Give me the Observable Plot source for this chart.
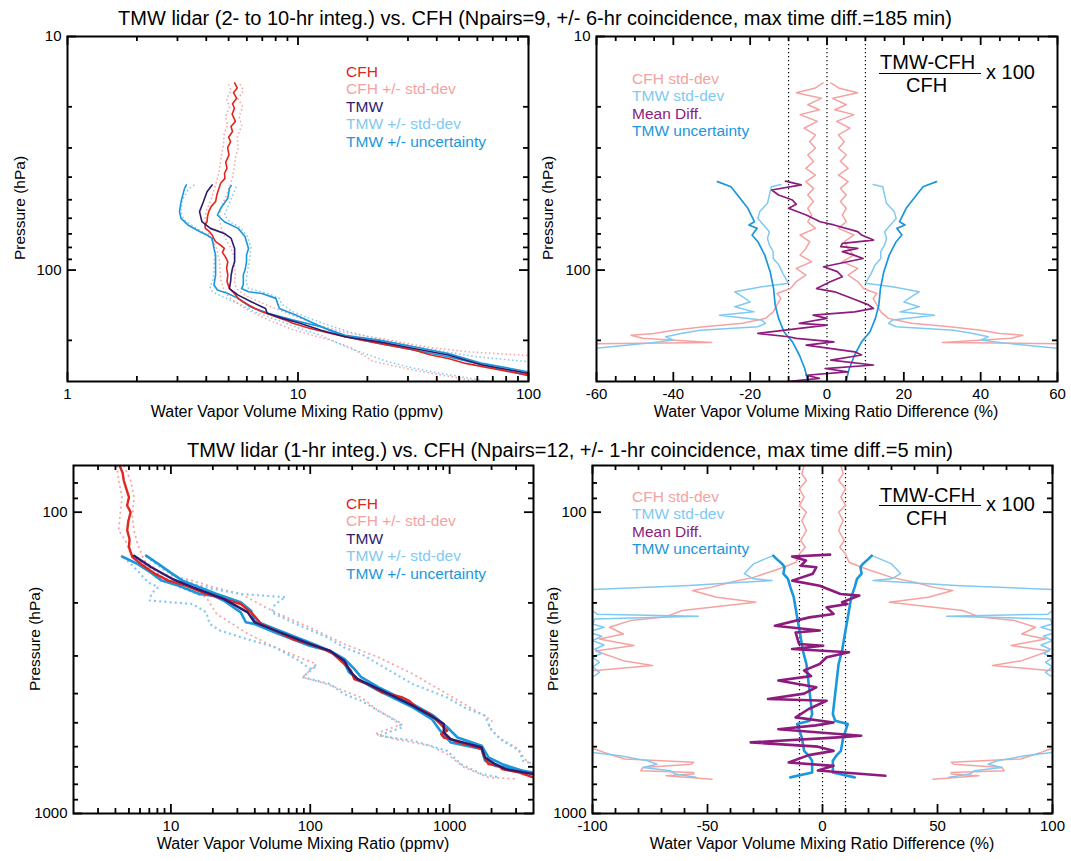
<!DOCTYPE html>
<html><head><meta charset="utf-8">
<script src="https://cdn.jsdelivr.net/npm/d3@7"></script>
<script src="https://cdn.jsdelivr.net/npm/@observablehq/plot@0.6"></script>
<style>
body{margin:0;background:#fff;font-family:"Liberation Sans",Arial,Helvetica,sans-serif;color:#000;}
#root{position:relative;width:1071px;height:861px;overflow:hidden;background:#fff;}
.t{position:absolute;white-space:nowrap;line-height:1;}
.title{font-size:20px;transform:translateX(-50%);}
.xl{font-size:16px;transform:translateX(-50%);}
.yl{font-size:15.5px;transform:translate(-50%,-50%) rotate(-90deg);}
.leg{position:absolute;font-size:15.5px;line-height:17.4px;white-space:nowrap;}
.fr{font-size:20px;}
.bar{position:absolute;border-top:1.6px solid #000;height:0;}
svg{position:absolute;}
</style></head>
<body><div id="root"></div>
<script>
// ---------- colours ----------
const COL = {cfh:"#e2261d", cfhSd:"#f5a2a2", tmw:"#2e1b6e", tmwSd:"#80c9f1", unc:"#1b97dc", mean:"#8c1b7d"};

// ---------- titles / labels ----------
const titleTop = "TMW lidar (2- to 10-hr integ.) vs. CFH (Npairs=9, +/- 6-hr coincidence, max time diff.=185 min)";
const titleBottom = "TMW lidar (1-hr integ.) vs. CFH (Npairs=12, +/- 1-hr coincidence, max time diff.=5 min)";
const xLabelRatio = "Water Vapor Volume Mixing Ratio (ppmv)";
const xLabelDiff = "Water Vapor Volume Mixing Ratio Difference (%)";
const yLabel = "Pressure (hPa)";
const legendProfile = ["CFH","CFH +/- std-dev","TMW","TMW +/- std-dev","TMW +/- uncertainty"];
const legendProfileCol = [COL.cfh, COL.cfhSd, COL.tmw, COL.tmwSd, COL.unc];
const legendDiff = ["CFH std-dev","TMW std-dev","Mean Diff.","TMW uncertainty"];
const legendDiffCol = [COL.cfhSd, COL.tmwSd, COL.mean, COL.unc];

// ---------- tick values ----------
const tlXMajor = [1,10,100];
const tlXMinor = [2,3,4,5,6,7,8,9,20,30,40,50,60,70,80,90];
const topYMajor = [10,100];
const topYMinor = [20,30,40,50,60,70,80,90,200];
const trXMajor = [-60,-40,-20,0,20,40,60];
const trXMinor = [-55,-50,-45,-35,-30,-25,-15,-10,-5,5,10,15,25,30,35,45,50,55];
const blXMajor = [10,100,1000];
const blXMinor = [3,4,5,6,7,8,9,20,30,40,50,60,70,80,90,200,300,400,500,600,700,800,900,2000,3000];
const botYMajor = [100,1000];
const botYMinor = [80,90,200,300,400,500,600,700,800,900];
const brXMajor = [-100,-50,0,50,100];
const brXMinor = [-90,-80,-70,-60,-40,-30,-20,-10,10,20,30,40,60,70,80,90];
const refLines = [-10,0,10];

// ---------- top-left: profiles [pressure hPa, ppmv] ----------
const tl_cfh = [[15.8,5.31],[16.6,5.45],[17.4,5.25],[18.4,5.42],[19.4,5.2],[20.3,5.3],[21.5,5.18],[23.1,5.35],[24.3,5.12],[25.5,5.2],[27,5.0],[28.2,5.1],[30,4.95],[32.1,5.02],[34.5,4.86],[36.7,4.92],[38.5,4.8],[40.5,4.82],[42.5,4.62],[44.7,4.54],[47.5,4.45],[50.9,4.39],[53.5,4.2],[56.2,4.1],[59,4.05],[62.1,4.03],[64,3.95],[66.3,3.96],[68,4.1],[70.8,4.24],[73,4.3],[75.6,4.39],[78,4.6],[80.8,4.79],[84,4.7],[88,4.85],[92.1,4.96],[98,4.9],[105,4.96],[112,4.92],[119.9,5.04],[126,5.3],[132.2,5.5],[137,5.8],[141,6.1],[146,6.5],[151,6.98],[158.5,8.02],[163,8.7],[169,9.5],[177.8,11.3],[187,13.9],[193,16.0],[199.5,19.0],[206,22.5],[213,26.8],[220,31.8],[231,37.7],[239,44.9],[251,53.3],[259,63.2],[268,75.1],[282,100]];
const tl_cfh_lo = [[16,5.0],[17,5.12],[18.5,4.9],[20,5.05],[22,4.85],[24,4.95],[26,4.78],[29,4.75],[32,4.66],[35,4.6],[38,4.55],[42,4.42],[46,4.3],[50,4.2],[55,4.02],[60,3.95],[65,3.98],[70,4.1],[75,4.25],[80,4.42],[90,4.55],[100,4.6],[110,4.62],[120,4.75],[130,5.0],[140,5.5],[150,6.2],[160,7.1],[170,8.2],[180,9.5],[190,11.5],[200,14],[215,17],[230,19],[245,21],[255,25],[270,33],[285,45],[300,60]];
const tl_cfh_hi = [[16,5.6],[17,5.8],[18.5,5.5],[20,5.75],[22,5.55],[24,5.7],[27,5.45],[30,5.5],[33,5.35],[36,5.3],[40,5.2],[44,5.05],[48,4.9],[52,4.7],[56,4.6],[60,4.55],[66,4.65],[70,4.75],[75,4.9],[80,5.1],[88,5.3],[96,5.3],[104,5.35],[112,5.3],[120,5.4],[128,5.9],[135,6.6],[145,7.8],[155,9.3],[165,11],[175,13],[185,16],[195,22],[205,29],[215,38],[224,55],[232,100]];
const tl_tmw = [[43.2,4.24],[46.2,4.03],[50.9,3.89],[56.2,3.74],[62.1,3.83],[66.3,4.17],[69.7,4.79],[73.2,5.13],[80.8,5.31],[92.1,5.31],[98,5.2],[105,5.13],[112,5.1],[120,5.04],[128,5.5],[137,6.3],[146,7.23],[153,7.35],[161,8.6],[169,10.2],[181,12.6],[193,16.0],[203,22.5],[216.6,31.8],[231,44.9],[255,63.2],[277,100]];
const tl_tmw_lo = [[43.2,3.55],[45,3.35],[50,3.15],[56,3.1],[61,3.2],[66,3.6],[71,4.05],[76,4.3],[85,4.35],[100,4.32],[110,4.28],[118,4.15],[124,4.25],[130,4.7],[140,5.6],[152,6.6],[165,8.3],[180,10.5],[190,12.5],[200,14],[215,16.5],[230,20],[245,24],[260,30],[275,40],[290,55],[300,66]];
const tl_tmw_hi = [[44,5.4],[48,5.2],[54,4.95],[58,4.8],[62,5.05],[66,5.65],[72,6.05],[80,6.25],[92,6.15],[100,6.05],[112,5.95],[120,6.1],[126,7.4],[132,8.3],[140,8.5],[150,9.4],[160,11],[172,13.5],[185,17],[195,21],[205,27],[215,35],[225,45],[235,60],[247,100]];
const tl_unc_lo = [[43.2,3.28],[44.7,3.22],[50.9,3.11],[56.2,3.06],[60.1,3.11],[64.1,3.33],[68.5,3.76],[70.8,4.03],[73.2,4.24],[80.8,4.32],[86.3,4.39],[98.3,4.39],[105,4.39],[115.8,4.32],[121.8,4.47],[125.9,4.96],[132.2,5.5],[143.6,6.2],[153.4,7.49],[163.8,9.53],[174.9,12.6],[193,16.0],[206,22.5],[220,31.8],[235,44.9],[255,63.2],[283.6,100]];
const tl_unc_hi = [[43.5,5.13],[44.7,5.04],[49.3,4.96],[54.4,4.62],[58.1,4.47],[62.1,4.79],[66.3,5.5],[71.9,5.89],[75.6,5.98],[80.8,6.1],[86.3,5.98],[92.1,5.98],[100,5.89],[105,5.79],[115.8,5.79],[120,5.69],[123.9,6.1],[125.9,6.98],[132.2,8.02],[146,8.3],[156,9.83],[174.9,12.6],[190,16.0],[199.5,22.5],[213,31.8],[227.5,44.9],[251,63.2],[272.6,100]];

// ---------- top-right: differences [pressure hPa, %] ----------
const tr_cfh_sd = [[15.8,1],[16.6,3],[17.4,8],[18.4,1.5],[19.6,5],[20.6,2],[21.6,7],[23.1,2.5],[24.7,6],[26.4,3],[28.2,4.5],[30.1,3],[32.1,5],[34.3,3.5],[36.7,5.5],[39.2,3],[41.8,5.5],[44.7,3.5],[47.7,5],[50.9,3.5],[54.4,5],[58.1,4],[62.1,5],[66.3,3],[70.8,7],[75.6,4.5],[80.8,5.5],[86.3,7],[92.1,4],[98.3,8],[105,5.5],[112,8],[120,9.5],[125.9,13],[132.2,12],[141,13],[151,14],[161,16],[169,22],[174.9,32],[180.9,40],[186.8,45],[190,51],[196,48],[204,30],[208,75]];
const tr_tmw_sd = [[43,12],[44,14.5],[47.7,15],[51.8,15.5],[56.2,17.5],[60.1,18],[64.1,16.5],[68.5,15],[73.2,15.5],[78.1,15],[83.4,14],[89.2,14],[95.2,12.5],[103.3,11.5],[114,10],[117.8,17],[123.9,24],[130,22],[137,20],[143.6,24],[151,19],[156,28],[163.8,17],[169,16],[174.9,18],[180.9,33],[186.8,38],[193,42],[199.5,40],[206,47],[220,65]];
const tr_unc = [[41.8,28.5],[44,25],[47.7,23.3],[54.4,20.6],[62.1,18.9],[64.1,20.3],[66.3,18.2],[70.8,19.5],[75.6,18],[86.3,16.2],[101.6,14.8],[120,13.9],[141,13.5],[161,12.6],[183.8,11.2],[203,9],[231,7.2],[264,5.8],[301,4.9]];
const tr_mean = [[41.6,-10.8],[43.2,-6.7],[45.4,-14.4],[47.7,-12.6],[50.1,-9],[52.3,-8],[54.4,-10],[58.1,-5.4],[62.1,-1.8],[64.1,1.8],[68.5,8],[70.8,9],[74.4,12.1],[76.8,4],[79.4,3.6],[80.8,8],[83.4,4],[86.3,7],[89.2,9.4],[96.8,-0.9],[101.6,2.7],[106.8,4],[112,1],[120,-2.7],[123.9,2],[134.4,7.6],[141,10.8],[146,12.1],[151,7.2],[156,-3.6],[161,0],[169,-7.2],[172.1,0],[186.8,-18],[193,-10],[196,-8],[203,1.8],[209.6,-5.4],[223.9,7.2],[231,9],[243,1],[255,12.1],[264,-0.5],[273,5.4],[282,-5.4],[291,-2],[301,-10.8]];

// ---------- bottom-left: profiles [pressure hPa, ppmv] ----------
const bl_cfh = [[70,4.28],[74,4.5],[78.5,4.59],[84,4.8],[89.2,5.0],[95,4.85],[100,5.14],[107,4.95],[115,4.86],[123,5.05],[130.7,5.0],[141,5.29],[148.5,6.09],[160,7.66],[168.7,9.6],[175.4,12.8],[186.8,17.9],[194,23.9],[201.7,31.7],[215,37.6],[235,44.6],[247,56],[263.6,74.5],[273.8,98.9],[284.5,124],[295.6,147],[319,175],[335.5,196],[358,207],[371.9,260],[396,326],[412,459],[422.5,514],[444.6,576],[468,723],[492,810],[531,961],[545,870],[559.6,908],[566.6,1017],[580.9,1140],[595.6,1431],[611,1698],[650,1780],[686,1902],[694.8,2256],[712.7,2388],[731,3170],[758.7,3981]];
const bl_tmw = [[139.4,5.44],[152.4,7.23],[166.4,10.2],[177.3,14.3],[194,23.9],[215,35.6],[231.9,39.8],[247,56],[273.8,98.9],[288.7,139],[311,175],[340,196],[358,219],[386,308],[438.5,544],[479.6,766],[504.9,908],[538,908],[566.6,1017],[586.6,1352],[604,1698],[651.6,1795],[686,2130],[712.7,2525],[740,3981]];
const bl_unc_lo = [[140.3,4.46],[148.5,5.75],[156.2,6.84],[168.7,8.58],[175.4,11.4],[186.8,16.0],[189.2,20.1],[196.4,23.9],[215,31.7],[231.9,34.5],[235,39.8],[250.7,56],[277.4,98.9],[288.7,139],[315,175],[340,190],[358,219],[391,308],[444.6,544],[486,745],[531,857],[580.9,1017],[611,1698],[668,1795],[694.8,2130],[731,3981]];
const bl_unc_hi = [[139.4,6.64],[148.5,8.11],[160,10.2],[168.7,12.1],[177.3,16.0],[186.8,21.3],[199,31.7],[212.3,37.6],[229,39.8],[244.3,56],[270.5,98.9],[288.7,139],[306.6,175],[331,207],[353,232],[381,308],[433.5,544],[473.5,766],[517.5,961],[559.6,1140],[595.6,1698],[651.6,1902],[686,2388],[740,3981]];
const bl_tmw_lo = [[144.7,4.86],[156.2,5.75],[170.9,6.84],[177.3,8.11],[186.8,7.23],[196.4,7.03],[201.7,14.3],[215,17.9],[235,19.0],[247,22.5],[260,31.7],[281,56],[311,83.4],[331,98.9],[323,111],[353,88.3],[371.9,139],[401.6,175],[422.5,232],[456,308],[492,409],[517.5,459],[551.8,308],[573,544],[619.6,961],[686,1205],[740,1698],[758.7,2256]];
const bl_tmw_hi = [[140.3,6.64],[156.2,9.08],[164.6,11.4],[173,14.3],[179.8,20.1],[186.8,31.7],[191.5,66.4],[201.7,56],[215,52.8],[231.9,74.5],[260,131.5],[281,175],[295.6,232],[319,308],[371.9,544],[412,961],[444.6,1276],[473.5,1795],[504.9,1902],[531,2014],[573,2388],[619.6,3170],[668,3357],[686,3981]];
const bl_cfh_lo = [[70,4.1],[78.5,4.22],[89.2,4.46],[101,4.33],[115,4.22],[124.2,4.72],[137.5,5.14],[152.4,6.84],[177.3,11.4],[191.5,17.9],[217.6,21.3],[253,35.6],[281,56],[303,83.4],[319,111],[353,88.3],[371.9,131.5],[412,232],[456,308],[504.9,459],[544.5,291],[566.6,409],[595.6,723],[635.5,961],[703.6,1276],[758.7,1902],[768,2999]];
const bl_cfh_hi = [[70,4.59],[78.5,5.14],[89.2,5.44],[103.9,5.29],[115,5.44],[127.4,5.75],[144.7,6.44],[160,8.58],[168.7,14.3],[177.3,20.1],[186.8,31.7],[215,56],[241,98.9],[273.8,175],[303,308],[344,544],[401.6,961],[468,1698],[492,2014],[517.5,1902],[559.6,2256],[604,2999],[668,3560],[686,3981]];

// ---------- bottom-right: differences [pressure hPa, %] ----------
const br_cfh_sd = [[70,8],[74.6,9],[78.5,7],[83.6,10],[89.2,8],[95,10],[100,7],[106.6,9],[115,7],[124.2,9.5],[130.7,7.5],[137.5,10],[146.6,11.5],[152.4,17],[156.2,21],[164.6,30],[170.9,40],[177.3,48],[182,56.6],[191.5,46],[199,29],[212,61],[223,68.6],[229,83.6],[241,92.6],[253.6,86.6],[263.6,97],[277,82],[288.7,98.6],[311,86.6],[323,73.9],[335,98.6],[345,130],[600,130],[611,99],[627,95],[659,86],[676,56],[686,57],[703,78],[721.5,79],[731,56],[740,56],[749.7,68],[769,48]];
const br_tmw_sd = [[139.4,21.4],[142.9,25],[148.5,30],[154.2,32],[160,34],[166.4,30],[168.7,22],[175.4,60],[184.6,130],[196,130],[201.7,101],[212,100],[218,98],[221.6,54],[226,99],[235,100],[241,95],[250,102],[258,96],[266.8,100],[276,95],[285,99],[294,96],[303,100],[315,97],[326,100],[340,97],[349,99],[362,130],[611,130],[627,100],[643,88],[660,80],[668,76],[686,72],[703.6,78],[721.5,66],[740,64],[758.7,55]];
const br_unc = [[139.4,21.4],[142.9,20],[148.5,17.5],[152.4,16.5],[160,17],[166.4,15],[177.3,14],[191.5,12.5],[212.3,11.5],[235,10.5],[260,9.5],[288.7,8.5],[319,7],[371.9,6],[433.5,5],[468,4.5],[492,5.5],[504.9,11],[559.6,9],[619.6,8],[643,6],[668,4.5],[731,4.5],[758.7,14]];
const br_mean = [[138.3,3.3],[140.3,-13.2],[144.7,-7.2],[150.4,-9.4],[152.4,-2.7],[160,-4.2],[168.7,-13.2],[175.4,-1.2],[186.8,7.8],[189.2,16],[199,8.5],[201.7,10.8],[207,1.8],[217.6,4.8],[223.4,-5.7],[238.3,-20.7],[247,-1.2],[250.7,-11.7],[273.8,-10.2],[277.4,0.3],[284.5,-13.2],[291.8,11.5],[303,1.8],[319,-1.2],[335,-8],[350,-5],[362,-19.2],[381,-2.7],[400,-8],[417,-23.7],[422.5,1.8],[450,-6],[479.6,-11.7],[498.6,4.8],[510,-3],[525,-19.2],[551.8,16.8],[560,5],[580.9,-31.2],[600,-2],[619.6,4.8],[640,-6],[677.6,-14.7],[694.8,4.8],[720,-2],[749.7,27.3]];

// ---------- helpers ----------
const FONT = '"Liberation Sans", Arial, Helvetica, sans-serif';
const root = document.getElementById("root");

function prof(data, stroke, w, dash) {
  return Plot.line(data, {x: d => d[1], y: d => d[0], stroke, strokeWidth: w, strokeDasharray: dash,
    strokeLinecap: dash ? "butt" : "round", strokeLinejoin: dash ? "miter" : "round", clip: true});
}
function mirror(data, stroke, w) {
  return [
    Plot.line(data, {x: d => d[1], y: d => d[0], stroke, strokeWidth: w, clip: true}),
    Plot.line(data, {x: d => -d[1], y: d => d[0], stroke, strokeWidth: w, clip: true})
  ];
}

function panel(o) {
  const H = o.height - o.mt - o.mb, W = o.width - o.ml - o.mr;
  const MAJ = 9, MIN = 5;
  const tk = {stroke: "#000", strokeWidth: 1.8};
  const svg = Plot.plot({
    width: o.width, height: o.height,
    marginLeft: o.ml, marginRight: o.mr, marginTop: o.mt, marginBottom: o.mb,
    style: {fontFamily: FONT, fontSize: "15px", color: "#000", background: "transparent", overflow: "visible"},
    x: {type: o.xType, domain: o.xDomain},
    y: {type: "log", domain: o.yDomain, reverse: true},
    marks: [
      ...o.marks,
      Plot.tickX(o.xMajor, {x: d => d, insetTop: H - MAJ, ...tk}),
      Plot.tickX(o.xMajor, {x: d => d, insetBottom: H - MAJ, ...tk}),
      Plot.tickX(o.xMinor, {x: d => d, insetTop: H - MIN, ...tk}),
      Plot.tickX(o.xMinor, {x: d => d, insetBottom: H - MIN, ...tk}),
      Plot.tickY(o.yMajor, {y: d => d, insetRight: W - MAJ, ...tk}),
      Plot.tickY(o.yMajor, {y: d => d, insetLeft: W - MAJ, ...tk}),
      Plot.tickY(o.yMinor, {y: d => d, insetRight: W - MIN, ...tk}),
      Plot.tickY(o.yMinor, {y: d => d, insetLeft: W - MIN, ...tk}),
      Plot.frame({stroke: "#000", strokeWidth: 2}),
      Plot.axisX(o.xMajor, {tickSize: 0, tickPadding: 7, tickFormat: d => String(d), label: null}),
      Plot.axisY(o.yMajor, {tickSize: 0, tickPadding: 6, tickFormat: d => String(d), label: null})
    ]
  });
  svg.style.left = o.left + "px";
  svg.style.top = o.top + "px";
  root.appendChild(svg);
}

function text(cls, str, left, top, color) {
  const d = document.createElement("div");
  d.className = "t " + cls;
  d.textContent = str;
  d.style.left = left + "px"; d.style.top = top + "px";
  if (color) d.style.color = color;
  root.appendChild(d);
}
function legend(items, cols, left, top) {
  const d = document.createElement("div");
  d.className = "leg";
  d.style.left = left + "px"; d.style.top = top + "px";
  items.forEach((s, i) => {
    const r = document.createElement("div");
    r.textContent = s; r.style.color = cols[i];
    d.appendChild(r);
  });
  root.appendChild(d);
}
function formula(numCy, barY, denCy, left) {
  const fs = 20, off = fs * 0.55;
  text("fr", "TMW-CFH", left + 1, numCy - off);
  const b = document.createElement("div");
  b.className = "bar"; b.style.left = left + "px"; b.style.top = barY + "px"; b.style.width = "102px";
  root.appendChild(b);
  text("fr", "CFH", left + 27, denCy - off);
  text("fr", "x 100", left + 107, barY - off);
}

// ---------- panels ----------
const TOP_Y = [10, 300], BOT_Y = [70, 1000];
const DOT = "1.5,2.6", DOTB = "2,3.2";

panel({left: 0, top: 0, width: 540, height: 430, ml: 67, mr: 12, mt: 36, mb: 49,
  xType: "log", xDomain: [1, 100], yDomain: TOP_Y,
  xMajor: tlXMajor, xMinor: tlXMinor, yMajor: topYMajor, yMinor: topYMinor,
  marks: [
    prof(tl_cfh_lo, COL.cfhSd, 1.5, DOT), prof(tl_cfh_hi, COL.cfhSd, 1.5, DOT),
    prof(tl_tmw_lo, COL.tmwSd, 1.5, DOT), prof(tl_tmw_hi, COL.tmwSd, 1.5, DOT),
    prof(tl_unc_lo, COL.unc, 1.6), prof(tl_unc_hi, COL.unc, 1.6),
    prof(tl_cfh, COL.cfh, 1.6), prof(tl_tmw, COL.tmw, 1.6)
  ]});

panel({left: 535, top: 0, width: 536, height: 430, ml: 61, mr: 14, mt: 36, mb: 49,
  xType: "linear", xDomain: [-60, 60], yDomain: TOP_Y,
  xMajor: trXMajor, xMinor: trXMinor, yMajor: topYMajor, yMinor: topYMinor,
  marks: [
    Plot.ruleX(refLines, {stroke: "#000", strokeWidth: 1.2, strokeDasharray: "1.2,2.8"}),
    ...mirror(tr_cfh_sd, COL.cfhSd, 1.5),
    ...mirror(tr_tmw_sd, COL.tmwSd, 1.5),
    ...mirror(tr_unc, COL.unc, 1.7),
    prof(tr_mean, COL.mean, 1.7)
  ]});

panel({left: 0, top: 430, width: 540, height: 431, ml: 73, mr: 7, mt: 35, mb: 48,
  xType: "log", xDomain: [2, 4000], yDomain: BOT_Y,
  xMajor: blXMajor, xMinor: blXMinor, yMajor: botYMajor, yMinor: botYMinor,
  marks: [
    prof(bl_cfh_lo, COL.cfhSd, 1.7, DOTB), prof(bl_cfh_hi, COL.cfhSd, 1.7, DOTB),
    prof(bl_tmw_lo, COL.tmwSd, 2.2, DOTB), prof(bl_tmw_hi, COL.tmwSd, 2.2, DOTB),
    prof(bl_unc_lo, COL.unc, 2.6), prof(bl_unc_hi, COL.unc, 2.6),
    prof(bl_cfh, COL.cfh, 2.4), prof(bl_tmw, COL.tmw, 2.4)
  ]});

panel({left: 535, top: 430, width: 536, height: 431, ml: 57, mr: 19, mt: 35, mb: 48,
  xType: "linear", xDomain: [-100, 100], yDomain: BOT_Y,
  xMajor: brXMajor, xMinor: brXMinor, yMajor: botYMajor, yMinor: botYMinor,
  marks: [
    Plot.ruleX(refLines, {stroke: "#000", strokeWidth: 1.2, strokeDasharray: "1.2,2.8"}),
    ...mirror(br_cfh_sd, COL.cfhSd, 1.5),
    ...mirror(br_tmw_sd, COL.tmwSd, 1.5),
    ...mirror(br_unc, COL.unc, 2.6),
    prof(br_mean, COL.mean, 2.6)
  ]});

// ---------- text ----------
text("title", titleTop, 535, 8);
text("title", titleBottom, 570, 440);
text("xl", xLabelRatio, 297, 403.5);
text("xl", xLabelDiff, 826, 403.5);
text("xl", xLabelRatio, 303, 835.5);
text("xl", xLabelDiff, 822, 835.5);
text("yl", yLabel, 20, 208);
text("yl", yLabel, 548, 208);
text("yl", yLabel, 35, 639);
text("yl", yLabel, 553, 639);

legend(legendProfile, legendProfileCol, 346, 63);
legend(legendDiff, legendDiffCol, 632, 70);
legend(legendProfile, legendProfileCol, 346, 495);
legend(legendDiff, legendDiffCol, 632, 488);

formula(63, 72.5, 86, 879);
formula(496, 505, 518.5, 879);
</script>
</body></html>
